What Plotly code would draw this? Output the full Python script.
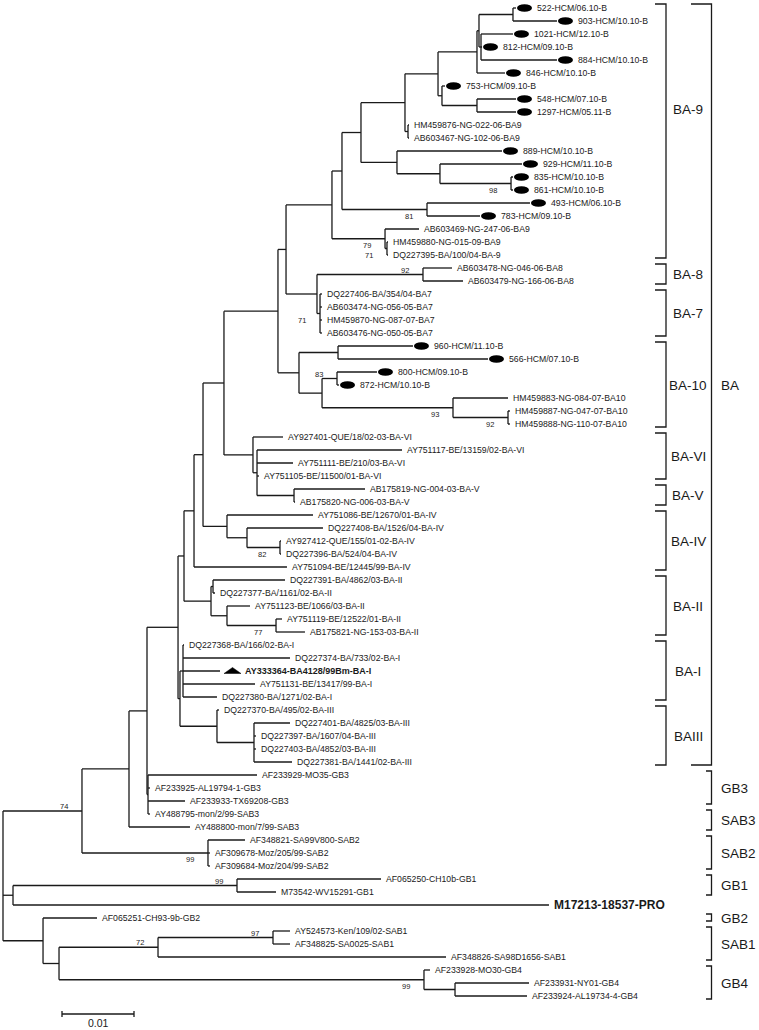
import plotly.graph_objects as go
from collections import defaultdict

# ---------------- data ----------------
leaf_names = [
    "522-HCM/06.10-B", "903-HCM/10.10-B", "1021-HCM/12.10-B", "812-HCM/09.10-B", "884-HCM/10.10-B",
    "846-HCM/10.10-B", "753-HCM/09.10-B", "548-HCM/07.10-B", "1297-HCM/05.11-B",
    "HM459876-NG-022-06-BA9", "AB603467-NG-102-06-BA9",
    "889-HCM/10.10-B", "929-HCM/11.10-B", "835-HCM/10.10-B", "861-HCM/10.10-B",
    "493-HCM/06.10-B", "783-HCM/09.10-B",
    "AB603469-NG-247-06-BA9", "HM459880-NG-015-09-BA9", "DQ227395-BA/100/04-BA-9",
    "AB603478-NG-046-06-BA8", "AB603479-NG-166-06-BA8",
    "DQ227406-BA/354/04-BA7", "AB603474-NG-056-05-BA7", "HM459870-NG-087-07-BA7", "AB603476-NG-050-05-BA7",
    "960-HCM/11.10-B", "566-HCM/07.10-B", "800-HCM/09.10-B", "872-HCM/10.10-B",
    "HM459883-NG-084-07-BA10", "HM459887-NG-047-07-BA10", "HM459888-NG-110-07-BA10",
    "AY927401-QUE/18/02-03-BA-VI", "AY751117-BE/13159/02-BA-VI", "AY751111-BE/210/03-BA-VI", "AY751105-BE/11500/01-BA-VI",
    "AB175819-NG-004-03-BA-V", "AB175820-NG-006-03-BA-V",
    "AY751086-BE/12670/01-BA-IV", "DQ227408-BA/1526/04-BA-IV", "AY927412-QUE/155/01-02-BA-IV", "DQ227396-BA/524/04-BA-IV", "AY751094-BE/12445/99-BA-IV",
    "DQ227391-BA/4862/03-BA-II", "DQ227377-BA/1161/02-BA-II", "AY751123-BE/1066/03-BA-II", "AY751119-BE/12522/01-BA-II", "AB175821-NG-153-03-BA-II",
    "DQ227368-BA/166/02-BA-I", "DQ227374-BA/733/02-BA-I", "AY333364-BA4128/99Bm-BA-I", "AY751131-BE/13417/99-BA-I", "DQ227380-BA/1271/02-BA-I",
    "DQ227370-BA/495/02-BA-III", "DQ227401-BA/4825/03-BA-III", "DQ227397-BA/1607/04-BA-III", "DQ227403-BA/4852/03-BA-III", "DQ227381-BA/1441/02-BA-III",
    "AF233929-MO35-GB3", "AF233925-AL19794-1-GB3", "AF233933-TX69208-GB3", "AY488795-mon/2/99-SAB3", "AY488800-mon/7/99-SAB3",
    "AF348821-SA99V800-SAB2", "AF309678-Moz/205/99-SAB2", "AF309684-Moz/204/99-SAB2",
    "AF065250-CH10b-GB1", "M73542-WV15291-GB1", "M17213-18537-PRO",
    "AF065251-CH93-9b-GB2", "AY524573-Ken/109/02-SAB1", "AF348825-SA0025-SAB1", "AF348826-SA98D1656-SAB1",
    "AF233928-MO30-GB4", "AF233931-NY01-GB4", "AF233924-AL19734-4-GB4",
]

leaf_parent = [
    "n513", "n513", "n480", "n480", "n480",
    "n478", "n442", "n477", "n477",
    "nhm", "nhm",
    "n397", "n440", "n98", "n98",
    "n81", "n81",
    "n79", "n71", "n71",
    "nBA8", "nBA8",
    "nBA7", "nBA7", "nBA7", "nBA7",
    "n338", "n338", "n800", "n800",
    "nNG", "n92b", "n92b",
    "n253", "nVIb", "nVIb", "nVIb",
    "nV", "nV",
    "nIV", "nIVb", "n82", "n82", "n194",
    "nIIa", "nIIa", "nIIb", "n77", "n77",
    "nI", "nI", "nI", "nI", "nI",
    "nIII", "n254", "n254", "n254", "n254",
    "nGB3", "nGB3", "nGB3", "nGB3", "n129",
    "nSAB2", "nSAB2", "nSAB2",
    "nGB1", "nGB1", "n13",
    "nbot", "n97", "n97", "nSAB1",
    "nGB4", "n455", "n455",
]

# tip depth from root, in units of 0.001 substitutions/site
leaf_depth_milli = [
    71.25, 76.94, 70.83, 66.53, 76.94,
    69.72, 61.39, 71.25, 71.25,
    56.39, 56.39,
    69.31, 72.08, 70.83, 70.83,
    73.19, 66.25,
    57.78, 53.47, 53.47,
    62.36, 63.89,
    44.31, 44.31, 44.31, 44.31,
    56.94, 67.36, 51.94, 46.67,
    70.14, 70.42, 70.42,
    38.89, 55.42, 40.28, 35.56,
    50.28, 40.56,
    43.06, 44.44, 38.61, 38.61, 39.44,
    39.17, 29.44, 34.31, 38.75, 41.94,
    25.14, 39.86, 30.14, 35.00, 29.72,
    30.00, 39.86, 35.14, 35.14, 40.14,
    35.28, 20.42, 25.28, 20.42, 25.97,
    33.61, 28.75, 28.75,
    52.50, 37.92, 75.83,
    13.06, 39.86, 39.86, 61.53,
    59.31, 73.06, 72.78,
]

node_names = [
    "root", "n74", "n129", "n147", "n178", "n184", "n194", "n202", "n224", "n278", "n286",
    "nBA9", "n342", "n361", "n405", "n438", "n478", "ntop", "n513", "n480", "n442", "n477",
    "nhm", "n397", "n440", "n98", "n81", "n79", "n71",
    "nBA78", "nBA8", "nBA7", "nBA10", "n338", "n10b", "n800", "nNG", "n92b",
    "n253", "nVIb", "nV", "nIV", "nIVb", "n82",
    "nII", "nIIa", "nIIb", "n77", "nI_III", "nI", "nIII", "n254",
    "nGB3", "nSAB2", "n13", "nGB1", "nbot", "nsg", "nSAB1", "n97", "nGB4", "n455",
]
node_parent = [
    None, "root", "n74", "n129", "n147", "n178", "n184", "n194", "n202", "n224", "n278",
    "n286", "nBA9", "n342", "n361", "n405", "n438", "n478", "ntop", "ntop", "n438", "n442",
    "n405", "n361", "n397", "n440", "n342", "nBA9", "n79",
    "n286", "nBA78", "nBA78", "n278", "nBA10", "nBA10", "n10b", "n10b", "nNG",
    "n224", "n253", "nVIb", "n202", "nIV", "nIVb",
    "n184", "nII", "nII", "nIIb", "n178", "nI_III", "nI_III", "nIII",
    "n147", "n74", "root", "n13", "root", "nbot", "nsg", "nSAB1", "nsg", "nGB4",
]
node_depth_milli = [
    0.00, 10.97, 17.50, 20.00, 24.31, 25.14, 26.53, 27.78, 30.69, 38.19, 39.31,
    45.69, 47.08, 49.72, 55.83, 60.42, 65.83, 66.11, 70.83, 66.39, 60.97, 65.83,
    56.25, 54.72, 60.69, 70.56, 58.89, 53.06, 53.33,
    43.61, 58.33, 44.03, 41.11, 46.53, 44.31, 46.39, 62.50, 70.14,
    34.72, 35.28, 40.42, 31.11, 33.89, 38.47,
    28.89, 29.17, 31.11, 37.92, 24.58, 25.00, 29.72, 34.86,
    20.14, 28.47, 1.39, 32.50, 5.56, 7.78, 21.53, 37.50, 58.47, 62.78,
]

bootstrap_nodes = ["n98", "n81", "n79", "n71", "nBA8", "nBA7", "n800", "nNG", "n92b",
                   "n82", "n77", "n74", "nSAB2", "nGB1", "n97", "nSAB1", "nGB4"]
bootstrap_values = [98, 81, 79, 71, 92, 71, 83, 93, 92, 82, 77, 74, 99, 99, 97, 72, 99]

clade_names = ["BA-9", "BA-8", "BA-7", "BA-10", "BA-VI", "BA-V", "BA-IV", "BA-II", "BA-I", "BAIII",
               "BA", "GB3", "SAB3", "SAB2", "GB1", "GB2", "SAB1", "GB4"]
clade_first = ["522-HCM/06.10-B", "AB603478-NG-046-06-BA8", "DQ227406-BA/354/04-BA7", "960-HCM/11.10-B",
               "AY927401-QUE/18/02-03-BA-VI", "AB175819-NG-004-03-BA-V", "AY751086-BE/12670/01-BA-IV",
               "DQ227391-BA/4862/03-BA-II", "DQ227368-BA/166/02-BA-I", "DQ227370-BA/495/02-BA-III",
               "522-HCM/06.10-B", "AF233929-MO35-GB3", "AY488795-mon/2/99-SAB3", "AF348821-SA99V800-SAB2",
               "AF065250-CH10b-GB1", "AF065251-CH93-9b-GB2", "AY524573-Ken/109/02-SAB1", "AF233928-MO30-GB4"]
clade_last = ["DQ227395-BA/100/04-BA-9", "AB603479-NG-166-06-BA8", "AB603476-NG-050-05-BA7", "HM459888-NG-110-07-BA10",
              "AY751105-BE/11500/01-BA-VI", "AB175820-NG-006-03-BA-V", "AY751094-BE/12445/99-BA-IV",
              "AB175821-NG-153-03-BA-II", "DQ227380-BA/1271/02-BA-I", "DQ227381-BA/1441/02-BA-III",
              "DQ227381-BA/1441/02-BA-III", "AF233933-TX69208-GB3", "AY488800-mon/7/99-SAB3", "AF309684-Moz/204/99-SAB2",
              "M73542-WV15291-GB1", "AF065251-CH93-9b-GB2", "AF348826-SA98D1656-SAB1", "AF233924-AL19734-4-GB4"]
clade_level = [1, 1, 1, 1, 1, 1, 1, 1, 1, 1, 2, 3, 3, 3, 3, 3, 3, 3]

reference_strain = "AY333364-BA4128/99Bm-BA-I"
outgroup = "M17213-18537-PRO"
scale_bar_length = 0.01

# ---------------- layout constants ----------------
W, H = 759, 1030
PX_PER_UNIT = 7200.0      # 0.01 subs/site = 72 px
ROOT_PX = 3.0
ROW_PX = 13.0
FIRST_ROW_PX = 8.0
INK = "#1a1a1a"
FONT = "Arial, 'Liberation Sans', sans-serif"
clade_label_nudge_rows = {"BA-9": -1.7}


def dpx(px):  # pixel distance -> axis units
    return px / PX_PER_UNIT


def rpx(px):  # pixel distance -> rows
    return px / ROW_PX


depth = {}
for n, d in zip(leaf_names, leaf_depth_milli):
    depth[n] = d / 1000.0
for n, d in zip(node_names, node_depth_milli):
    depth[n] = d / 1000.0
parent = dict(zip(leaf_names, leaf_parent))
parent.update(dict(zip(node_names, node_parent)))
children = defaultdict(list)
for n, p in parent.items():
    if p is not None:
        children[p].append(n)

ypos = {n: i for i, n in enumerate(leaf_names)}


def gety(n):
    if n in ypos:
        return ypos[n]
    ys = [gety(c) for c in children[n]]
    ypos[n] = (min(ys) + max(ys)) / 2.0
    return ypos[n]


gety("root")

xs, ys = [], []
for n, p in parent.items():
    if p is None:
        continue
    xs += [depth[p], depth[n], None]
    ys += [ypos[n], ypos[n], None]
for n in node_names:
    cy = [ypos[c] for c in children[n]]
    xs += [depth[n], depth[n], None]
    ys += [min(cy), max(cy), None]

fig = go.Figure()
fig.add_trace(go.Scatter(x=xs, y=ys, mode="lines", line=dict(color=INK, width=1.3),
                         hoverinfo="skip", showlegend=False))

annotations = []
shapes = []
for n in leaf_names:
    x = depth[n]
    y = ypos[n]
    gap = 4
    size = 8.7
    bold = False
    if "HCM" in n:
        shapes.append(dict(type="circle", xref="x", yref="y",
                           x0=x + dpx(1), x1=x + dpx(16),
                           y0=y - rpx(3.8), y1=y + rpx(3.8),
                           fillcolor="black", line=dict(color="black", width=0)))
        gap = 20
    if n == reference_strain:
        shapes.append(dict(type="path", xref="x", yref="y",
                           path="M {a},{b} L {c},{d} L {e},{b} Z".format(
                               a=x + dpx(4), b=y + rpx(2.5), c=x + dpx(12.5), d=y - rpx(3.5), e=x + dpx(21)),
                           fillcolor="black", line=dict(color="black", width=0.5)))
        gap = 24
        size = 9
        bold = True
    if n == outgroup:
        size = 12
        bold = True
    annotations.append(dict(x=x + dpx(gap), y=y, xref="x", yref="y", showarrow=False,
                            xanchor="left", yanchor="middle",
                            text=("<b>%s</b>" % n) if bold else n,
                            font=dict(family=FONT, size=size, color=INK), borderpad=0))

above = {"nBA8", "n800", "n74", "nGB1", "n97", "nSAB1"}
for n, v in zip(bootstrap_nodes, bootstrap_values):
    dy = -rpx(4.5) if n in above else rpx(6.5)
    annotations.append(dict(x=depth[n] - dpx(18), y=ypos[n] + dy, xref="x", yref="y", showarrow=False,
                            xanchor="center", yanchor="middle", text=str(v),
                            font=dict(family=FONT, size=7.5, color=INK), borderpad=0))

# clade brackets (paper x, data y)
for name, f, l, lev in zip(clade_names, clade_first, clade_last, clade_level):
    y0 = ypos[f] - rpx(4)
    y1 = ypos[l] + rpx(3)
    if lev == 1:
        xv, xt = 666, 655
    elif lev == 2:
        xv, xt = 711.5, 691
    else:
        xv, xt = 711.5, 706
    shapes.append(dict(type="path", xref="paper", yref="y",
                       path="M {a},{b} L {c},{b} L {c},{d} L {a},{d}".format(a=xt / W, b=y0, c=xv / W, d=y1),
                       line=dict(color=INK, width=1.3)))
    ymid = (ypos[f] + ypos[l]) / 2.0 + clade_label_nudge_rows.get(name, 0)
    if lev == 1:
        annotations.append(dict(x=688 / W, y=ymid, xref="paper", yref="y", showarrow=False,
                                xanchor="center", yanchor="middle", text=name,
                                font=dict(family=FONT, size=13.5, color=INK), borderpad=0))
    else:
        annotations.append(dict(x=720 / W, y=ymid, xref="paper", yref="y", showarrow=False,
                                xanchor="left", yanchor="middle", text=name,
                                font=dict(family=FONT, size=13.5, color=INK), borderpad=0))

# scale bar
sb_x0 = dpx(62 - ROOT_PX)
sb_y = len(leaf_names) - 1 + rpx(18)
fig.add_trace(go.Scatter(
    x=[sb_x0, sb_x0 + scale_bar_length, None, sb_x0, sb_x0, None,
       sb_x0 + scale_bar_length, sb_x0 + scale_bar_length],
    y=[sb_y, sb_y, None, sb_y - rpx(3), sb_y + rpx(3), None, sb_y - rpx(3), sb_y + rpx(3)],
    mode="lines", line=dict(color=INK, width=1.3), hoverinfo="skip", showlegend=False))
annotations.append(dict(x=sb_x0 + scale_bar_length / 2, y=sb_y + rpx(9), xref="x", yref="y",
                        showarrow=False, xanchor="center", yanchor="middle", text="%g" % scale_bar_length,
                        font=dict(family=FONT, size=10.5, color=INK), borderpad=0))

fig.update_layout(
    width=W, height=H, margin=dict(l=0, r=0, t=0, b=0, pad=0),
    paper_bgcolor="white", plot_bgcolor="white",
    xaxis=dict(range=[dpx(-ROOT_PX), dpx(W - ROOT_PX)], visible=False, fixedrange=True),
    yaxis=dict(range=[(H - FIRST_ROW_PX) / ROW_PX, -FIRST_ROW_PX / ROW_PX], visible=False, fixedrange=True),
    annotations=annotations, shapes=shapes, showlegend=False,
)

fig.write_html("out.html", config={"displayModeBar": False},
               post_script="document.body.style.margin='0px';")
